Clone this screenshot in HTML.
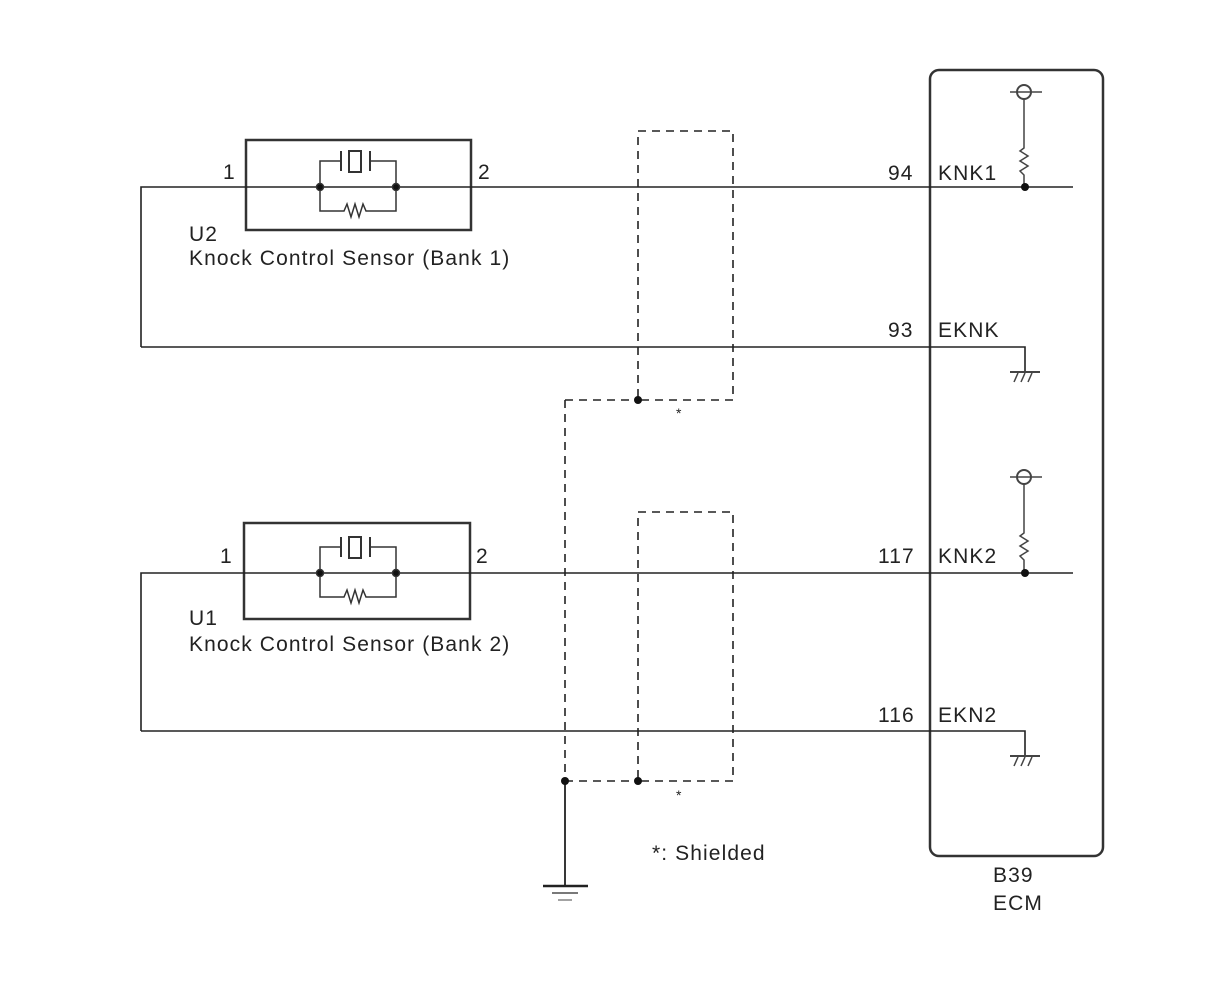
<!DOCTYPE html>
<html><head><style>
html,body{margin:0;padding:0;background:#fff;}
svg text{font-family:"Liberation Sans",Arial,sans-serif;font-size:21px;letter-spacing:1.1px;fill:#222;}
</style></head><body>
<svg width="1210" height="986" viewBox="0 0 1210 986" xmlns="http://www.w3.org/2000/svg">
<g stroke="#222" fill="none" stroke-width="1.6">
<rect x="930" y="70" width="173" height="786" rx="9" stroke-width="2.5" stroke="#333"/>
<rect x="246" y="140" width="225" height="90" stroke-width="2.5" stroke="#333"/>
<polyline points="141,347 141,187 1073,187"/>
<polyline points="141,347 1025,347 1025,372"/>
<rect x="244" y="523" width="226" height="96" stroke-width="2.5" stroke="#333"/>
<polyline points="141,731 141,573 1073,573"/>
<polyline points="141,731 1025,731 1025,756"/>
</g>
<g stroke="#333" fill="none" stroke-width="1.5">
<polyline points="320,187 320,161 341,161"/>
<line x1="341" y1="151" x2="341" y2="171" stroke-width="2"/>
<rect x="349" y="151" width="12" height="21" stroke-width="2"/>
<line x1="370" y1="151" x2="370" y2="171" stroke-width="2"/>
<polyline points="370,161 396,161 396,187"/>
<polyline points="320,187 320,211 344,211 347,204 351,217 355,204 359,217 363,204 366,211 396,211 396,187"/>
<circle cx="320" cy="187" r="3.5" fill="#111"/><circle cx="396" cy="187" r="3.5" fill="#111"/>
</g>
<g transform="translate(0,386)" stroke="#333" fill="none" stroke-width="1.5">
<polyline points="320,187 320,161 341,161"/>
<line x1="341" y1="151" x2="341" y2="171" stroke-width="2"/>
<rect x="349" y="151" width="12" height="21" stroke-width="2"/>
<line x1="370" y1="151" x2="370" y2="171" stroke-width="2"/>
<polyline points="370,161 396,161 396,187"/>
<polyline points="320,187 320,211 344,211 347,204 351,217 355,204 359,217 363,204 366,211 396,211 396,187"/>
<circle cx="320" cy="187" r="3.5" fill="#111"/><circle cx="396" cy="187" r="3.5" fill="#111"/>
</g>
<g stroke="#444" fill="none" stroke-width="1.5">
<circle cx="1024" cy="92" r="7" stroke-width="2"/><line x1="1010" y1="92" x2="1042" y2="92"/>
<polyline points="1024,99 1024,148 1020,151 1028,156 1020,161 1028,166 1020,171 1024,175 1024,187"/>
<circle cx="1024" cy="477" r="7" stroke-width="2"/><line x1="1010" y1="477" x2="1042" y2="477"/>
<polyline points="1024,484 1024,533 1020,536 1028,541 1020,546 1028,551 1020,556 1024,560 1024,573"/>
<line x1="1010" y1="372" x2="1040" y2="372" stroke-width="2"/>
<line x1="1014" y1="382" x2="1018" y2="373"/><line x1="1021" y1="382" x2="1025" y2="373"/><line x1="1028" y1="382" x2="1032" y2="373"/>
<line x1="1010" y1="756" x2="1040" y2="756" stroke-width="2"/>
<line x1="1014" y1="766" x2="1018" y2="757"/><line x1="1021" y1="766" x2="1025" y2="757"/><line x1="1028" y1="766" x2="1032" y2="757"/>
</g>
<circle cx="1025" cy="187" r="4" fill="#111"/><circle cx="1025" cy="573" r="4" fill="#111"/>
<g stroke="#222" fill="none" stroke-width="1.6" stroke-dasharray="8,6">
<rect x="638" y="131" width="95" height="269"/>
<line x1="565" y1="400" x2="638" y2="400"/>
<line x1="565" y1="400" x2="565" y2="781"/>
<rect x="638" y="512" width="95" height="269"/>
<line x1="565" y1="781" x2="638" y2="781"/>
</g>
<g stroke="#222" stroke-width="1.8">
<line x1="565" y1="781" x2="565" y2="886"/>
<line x1="543" y1="886" x2="588" y2="886" stroke-width="2.5"/>
<line x1="552" y1="893" x2="578" y2="893" stroke="#666"/>
<line x1="558" y1="900" x2="572" y2="900" stroke="#999"/>
</g>
<circle cx="638" cy="400" r="4" fill="#111"/><circle cx="638" cy="781" r="4" fill="#111"/><circle cx="565" cy="781" r="4" fill="#111"/>
<text x="223" y="179">1</text><text x="478" y="179">2</text>
<text x="189" y="241">U2</text><text x="189" y="265">Knock Control Sensor (Bank 1)</text>
<text x="220" y="563">1</text><text x="476" y="563">2</text>
<text x="189" y="625">U1</text><text x="189" y="651">Knock Control Sensor (Bank 2)</text>
<text x="888" y="180">94</text><text x="938" y="180">KNK1</text>
<text x="888" y="337">93</text><text x="938" y="337">EKNK</text>
<text x="878" y="563">117</text><text x="938" y="563">KNK2</text>
<text x="878" y="722">116</text><text x="938" y="722">EKN2</text>
<text x="676" y="418" style="font-size:14px">*</text>
<text x="676" y="800" style="font-size:14px">*</text>
<text x="652" y="860">*: Shielded</text>
<text x="993" y="882">B39</text><text x="993" y="910">ECM</text>
</svg>
</body></html>
